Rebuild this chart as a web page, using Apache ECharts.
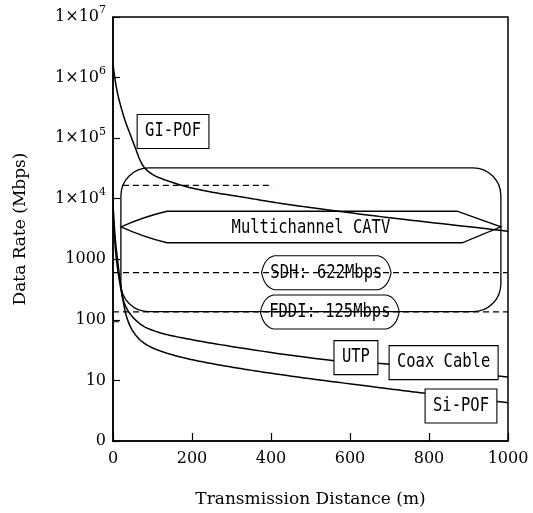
<!DOCTYPE html>
<html><head><meta charset="utf-8">
<script src="https://cdn.jsdelivr.net/npm/echarts/dist/echarts.min.js"></script>
<style>html,body{margin:0;padding:0;background:#fff}#c{width:533px;height:513px}</style>
</head><body><div id="c"></div>
<script>
// ---- data ----
const xTicks = [0, 200, 400, 600, 800, 1000];
const giPof = [[0,1.68e6],[5,9.5e5],[13,4.98e5],[30,2.0e5],[43,1.18e5],[56,7.05e4],[68,4.39e4],[77,3.43e4],[89,2.83e4],[104,2.43e4],[124,2.13e4],[149,1.87e4],[182,1.6e4],[246,1.3e4],[322,1.08e4],[423,8410],[532,6700],[701,4850],[980,3010],[1000,2900]];
const utp = [[0,7940],[6,2100],[13,813],[19,395],[26,215],[35,153],[51,109],[77,78.7],[106,65.2],[137,57],[271,39],[560,21.2],[686,18.9],[1000,11.4]];
const siPof = [[0,6000],[6,1500],[12,670],[25,215],[35,109],[48,69],[68,47],[94,36],[132,28.8],[182,23.4],[271,17.9],[423,12.5],[676,7.6],[785,6.2],[1000,4.3]];
const upperDash = [[25,16600],[405,16600]];
const sdhDash = [[0,600],[1000,600]];
const fddiDash = [[0,135],[1000,135]];
const shortDash = [[0,93],[22,93]];
const catvRegion = [[20,32400,982,136.5]];
const catvOutline = [[20,3440],[137,6210],[871,6210],[982,3440],[884,1875],[137,1875]];
const catvLabel = 'Multichannel CATV';
const catvLabelAnchor = [[501,3440]];
const boxLabels = ['GI-POF','UTP','Coax Cable','Si-POF'];
const boxAnchors = [[152,1.29e5],[615,23.8],[837,19.7],[881,3.78]];
const lozengeLabels = ['SDH: 622Mbps','FDDI: 125Mbps'];
const lozengeAnchors = [[540,600],[549,135]];

// ---- chart ----
const monoFont = '15.5px "DejaVu Sans Mono"';
const serif = 'DejaVu Serif';
function txt(x, y, s) {
  return {type:'text', x:x, y:y, scaleY:1.2,
    style:{text:s, fill:'#000', font:monoFont, align:'center', verticalAlign:'middle', textAlign:'center', textVerticalAlign:'middle'}};
}
// smooth path (centripetal Catmull-Rom) through pixel points obtained from the axes
function smoothPath(pts) {
  const n = pts.length;
  const P = [[2*pts[0][0]-pts[1][0], 2*pts[0][1]-pts[1][1]]].concat(pts, [[2*pts[n-1][0]-pts[n-2][0], 2*pts[n-1][1]-pts[n-2][1]]]);
  const out = [pts[0]];
  const dist = (a,b) => Math.max(1e-6, Math.pow(Math.hypot(b[0]-a[0], b[1]-a[1]), 0.5));
  const lerp = (a,b,ta,tb,t) => [((tb-t)*a[0]+(t-ta)*b[0])/(tb-ta), ((tb-t)*a[1]+(t-ta)*b[1])/(tb-ta)];
  for (let i = 1; i < P.length-2; i++) {
    const p0=P[i-1], p1=P[i], p2=P[i+1], p3=P[i+2];
    const t0=0, t1=t0+dist(p0,p1), t2=t1+dist(p1,p2), t3=t2+dist(p2,p3);
    const steps = 16;
    for (let s = 1; s <= steps; s++) {
      const t = t1 + (t2-t1)*s/steps;
      const a1=lerp(p0,p1,t0,t1,t), a2=lerp(p1,p2,t1,t2,t), a3=lerp(p2,p3,t2,t3,t);
      const b1=lerp(a1,a2,t0,t2,t), b2=lerp(a2,a3,t1,t3,t);
      out.push(lerp(b1,b2,t1,t2,t));
    }
  }
  return out;
}
function curveSeries(name, data) {
  return {type:'custom', name:name, silent:true, z:2, data:data, clip:true,
    renderItem:function(params, api){
      if (params.dataIndex !== 0) return null;
      const pts = data.map(d => api.coord(d));
      return {type:'polyline', shape:{points:smoothPath(pts)}, style:{fill:'none', stroke:'#000', lineWidth:1.5}};
    }};
}
const chart = echarts.init(document.getElementById('c'));
const lineBase = {type:'line', showSymbol:false, symbol:'none', silent:true, z:2};
const dashStyle = {color:'#000', width:1.2, type:[6,4]};
chart.setOption({
  animation:false,
  backgroundColor:'#fff',
  grid:{left:113, right:25, top:17, bottom:72, show:true, borderColor:'#000', borderWidth:1.5},
  xAxis:{type:'value', min:0, max:1000, interval:200,
    axisLine:{lineStyle:{color:'#000', width:1.5}},
    axisTick:{inside:true, length:8, lineStyle:{color:'#000', width:1.2}},
    splitLine:{show:false},
    axisLabel:{color:'#000', fontFamily:serif, fontSize:16, margin:10,
      formatter:v => xTicks.indexOf(v) >= 0 ? String(v) : ''},
    name:'Transmission Distance (m)', nameLocation:'middle', nameGap:50,
    nameTextStyle:{color:'#000', fontFamily:serif, fontSize:17}},
  yAxis:{type:'log', logBase:10, min:1, max:1e7,
    axisLine:{lineStyle:{color:'#000', width:1.5}},
    axisTick:{inside:true, length:7, lineStyle:{color:'#000', width:1.2}},
    splitLine:{show:false}, minorTick:{show:false},
    axisLabel:{color:'#000', fontFamily:serif, fontSize:16, margin:7,
      formatter:function(v){
        const e = Math.round(Math.log10(v));
        if (e === 0) return '0';
        if (e <= 3) return String(Math.round(v));
        return '{a|1×10}{b|' + e + '}';
      },
      rich:{a:{fontFamily:serif, fontSize:16, color:'#000', lineHeight:24, verticalAlign:'middle'},
            b:{fontFamily:serif, fontSize:11, color:'#000', lineHeight:24, verticalAlign:'top'}}},
    name:'Data Rate (Mbps)', nameLocation:'middle', nameGap:84, nameRotate:90,
    nameTextStyle:{color:'#000', fontFamily:serif, fontSize:17}},
  series:[
    curveSeries('GI-POF', giPof),
    curveSeries('UTP', utp),
    curveSeries('Si-POF', siPof),
    Object.assign({}, lineBase, {data:upperDash, lineStyle:dashStyle}),
    Object.assign({}, lineBase, {data:sdhDash, lineStyle:dashStyle}),
    Object.assign({}, lineBase, {data:fddiDash, lineStyle:dashStyle}),
    Object.assign({}, lineBase, {data:shortDash, lineStyle:dashStyle}),
    {type:'custom', silent:true, z:3, data:catvRegion, encode:{x:[0,2], y:[1,3]},
      renderItem:function(params, api){
        const a = api.coord([api.value(0), api.value(1)]);
        const b = api.coord([api.value(2), api.value(3)]);
        return {type:'rect', shape:{x:a[0], y:a[1], width:b[0]-a[0], height:b[1]-a[1], r:28},
          style:{fill:'none', stroke:'#000', lineWidth:1.3}};
      }},
    {type:'custom', silent:true, z:3, data:catvLabelAnchor,
      renderItem:function(params, api){
        const p = catvOutline.map(d => api.coord(d));
        const c1 = [p[0][0]+(p[1][0]-p[0][0])*0.5, p[0][1]+(p[1][1]-p[0][1])*0.65];
        const c2 = [p[0][0]+(p[5][0]-p[0][0])*0.5, p[0][1]+(p[5][1]-p[0][1])*0.65];
        const d = 'M'+p[0][0]+' '+p[0][1]+' Q'+c1[0]+' '+c1[1]+' '+p[1][0]+' '+p[1][1]+
          ' L'+p[2][0]+' '+p[2][1]+' L'+p[3][0]+' '+p[3][1]+' L'+p[4][0]+' '+p[4][1]+
          ' L'+p[5][0]+' '+p[5][1]+' Q'+c2[0]+' '+c2[1]+' '+p[0][0]+' '+p[0][1]+' Z';
        const t = api.coord([api.value(0), api.value(1)]);
        return {type:'group', children:[
          {type:'path', shape:{pathData:d}, style:{fill:'none', stroke:'#000', lineWidth:1.3}},
          txt(t[0], t[1]+1, catvLabel)
        ]};
      }},
    {type:'custom', silent:true, z:4, data:lozengeAnchors,
      renderItem:function(params, api){
        const c = api.coord([api.value(0), api.value(1)]);
        const s = lozengeLabels[params.dataIndex];
        const w = s.length*9.3+18, h = 34, k = 13;
        const x0 = c[0]-w/2, x1 = c[0]+w/2, y0 = c[1]-h/2, y1 = c[1]+h/2, cy = c[1];
        const d = 'M'+x0+' '+cy+' Q'+(x0+3)+' '+(y0+2)+' '+(x0+k)+' '+y0+' L'+(x1-k)+' '+y0+
          ' Q'+(x1-3)+' '+(y0+2)+' '+x1+' '+cy+' Q'+(x1-3)+' '+(y1-2)+' '+(x1-k)+' '+y1+
          ' L'+(x0+k)+' '+y1+' Q'+(x0+3)+' '+(y1-2)+' '+x0+' '+cy+' Z';
        return {type:'group', children:[
          {type:'path', shape:{pathData:d}, style:{fill:'none', stroke:'#000', lineWidth:1.1}},
          txt(c[0], c[1], s)
        ]};
      }},
    {type:'custom', silent:true, z:5, data:boxAnchors,
      renderItem:function(params, api){
        const c = api.coord([api.value(0), api.value(1)]);
        const s = boxLabels[params.dataIndex];
        const w = s.length*9.3+16, h = 34;
        return {type:'group', children:[
          {type:'rect', shape:{x:c[0]-w/2, y:c[1]-h/2, width:w, height:h},
            style:{fill:'#fff', stroke:'#000', lineWidth:1.1}},
          txt(c[0], c[1], s)
        ]};
      }}
  ]
});
</script>
</body></html>
